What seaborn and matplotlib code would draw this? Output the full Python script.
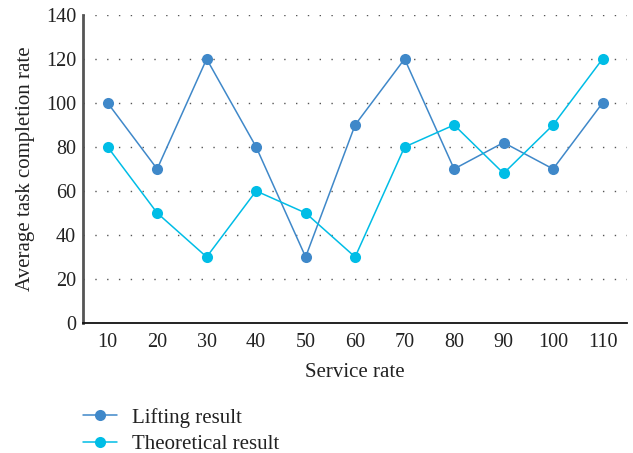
import matplotlib
matplotlib.use("Agg")
import matplotlib.pyplot as plt
import seaborn as sns
import pandas as pd

categories = ["10", "20", "30", "40", "50", "60", "70", "80", "90", "100", "110"]
lifting = [100, 70, 120, 80, 30, 90, 120, 70, 82, 70, 100]
theoretical = [80, 50, 30, 60, 50, 30, 80, 90, 68, 90, 120]
series_names = ["Lifting result", "Theoretical result"]
colors = ["#3F88C9", "#00BDE6"]

sns.set_theme(style="white")
plt.rcParams["font.family"] = ["Liberation Serif", "DejaVu Serif"]

rows = []
for name, vals in zip(series_names, [lifting, theoretical]):
    for i, v in enumerate(vals):
        rows.append({"pos": i, "cat": categories[i], "value": v, "series": name})
df = pd.DataFrame(rows)

fig = plt.figure(figsize=(6.33, 4.53), dpi=100)
ax = fig.add_axes([0.131, 0.287, 0.860, 0.680])

sns.lineplot(data=df, x="pos", y="value", hue="series", hue_order=series_names,
             palette=colors, marker="o", markersize=8, markeredgewidth=0,
             linewidth=1.1, ax=ax, legend=False)

ax.set_xlim(-0.5, len(categories) - 0.5)
ax.set_ylim(0, 140)
ax.set_xticks(range(len(categories)))
ax.set_xticklabels(categories)
ax.set_yticks(range(0, 141, 20))
ax.tick_params(axis="both", length=0, labelsize=14.5, colors="#222222", pad=7)
ax.tick_params(axis="y", pad=5)

for y in range(20, 141, 20):
    ax.axhline(y, color="#555555", linestyle=(0, (1, 7.5)), linewidth=1.0, zorder=0)

for s in ["top", "right"]:
    ax.spines[s].set_visible(False)
ax.spines["left"].set_color("#555555")
ax.spines["left"].set_linewidth(2.0)
ax.spines["bottom"].set_color("#111111")
ax.spines["bottom"].set_linewidth(1.3)

ax.set_xlabel("Service rate", fontsize=15, color="#222222", labelpad=8)
ax.set_ylabel("Average task completion rate", fontsize=15, color="#222222", labelpad=8)

handles = [plt.Line2D([], [], color=c, marker="o", markersize=8, markeredgewidth=0,
                      linewidth=1.1) for c in colors]
fig.legend(handles, series_names, loc="upper left", bbox_to_anchor=(0.1185, 0.1186),
           frameon=False, fontsize=15, handlelength=1.63, handletextpad=0.72,
           labelspacing=0.35, borderaxespad=0, labelcolor="#222222")

fig.savefig("out.png", dpi=100)
